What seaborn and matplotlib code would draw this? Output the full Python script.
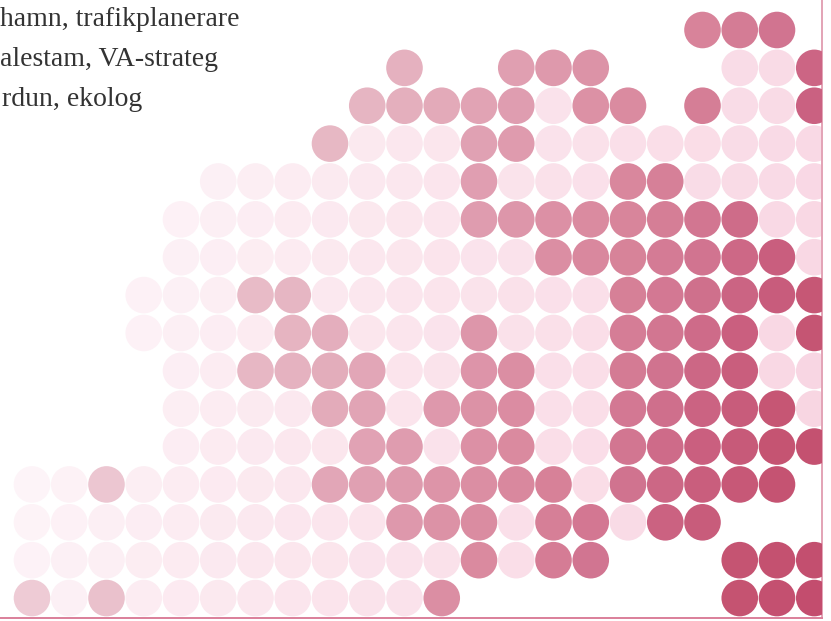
import numpy as np
import pandas as pd
import matplotlib
matplotlib.use("Agg")
import matplotlib.pyplot as plt
from matplotlib.colors import LinearSegmentedColormap
import seaborn as sns

# ---- data: dot matrix, '.' = no dot, 'o' = pale dot, 'X' = highlighted dot ----
grid_rows = [
    "..................XXX.",
    "..........X..XXX...ooX",
    ".........XXXXXoXX.XooX",
    "........XoooXXoooooooo",
    ".....oooooooXoooXXoooo",
    "....ooooooooXXXXXXXXoo",
    "....ooooooooooXXXXXXXo",
    "...oooXXooooooooXXXXXX",
    "...ooooXXoooXoooXXXXoX",
    "....ooXXXXooXXooXXXXoo",
    "....ooooXXoXXXooXXXXXo",
    "....oooooXXoXXooXXXXXX",
    "ooXoooooXXXXXXXoXXXXX.",
    "ooooooooooXXXoXXoXX...",
    "ooooooooooooXoXX...XXX",
    "XoXooooooooX.......XXX",
]

label_lines = ["hamn, trafikplanerare", "alestam, VA-strateg", "rdun, ekolog"]

# ---- build table ----
recs = []
for r, line in enumerate(grid_rows):
    for c, ch in enumerate(line):
        if ch != ".":
            recs.append({"col": c, "row": r, "state": "dark" if ch == "X" else "pale"})
df = pd.DataFrame(recs)
df["shade"] = df["col"] + 0.35 * df["row"]

dark_cmap = LinearSegmentedColormap.from_list(
    "dark",
    [(0.0, "#EECCD6"), (0.16, "#E8BBC7"), (0.30, "#E3ABBA"), (0.44, "#DE98AC"),
     (0.60, "#D8849A"), (0.70, "#D17490"), (0.78, "#CA6080"), (0.88, "#C55472"),
     (1.0, "#C34D6E")])
pale_cmap = LinearSegmentedColormap.from_list(
    "pale", [(0.0, "#FDF4F8"), (0.32, "#FBE7EE"), (0.82, "#F9D9E5"), (1.0, "#F8D4E1")])

W, H = 831, 621
fig = plt.figure(figsize=(W / 100, H / 100), dpi=100)
fig.patch.set_facecolor("white")

ax_right_px, ax_bottom_px = 822, 618
ax = fig.add_axes([0, (H - ax_bottom_px) / H, ax_right_px / W, ax_bottom_px / H])

x0, dx = 32, 37.25
y0, dy = 30, 37.87
size = (36.6 * 0.72) ** 2

sns.scatterplot(data=df[df.state == "pale"], x="col", y="row", hue="shade",
                palette=pale_cmap, hue_norm=(4, 26), s=size, linewidth=0,
                legend=False, ax=ax, zorder=2)
sns.scatterplot(data=df[df.state == "dark"], x="col", y="row", hue="shade",
                palette=dark_cmap, hue_norm=(5, 26.5), s=size, linewidth=0,
                legend=False, ax=ax, zorder=3)

ax.set_xlim(-x0 / dx, (ax_right_px - x0) / dx)
ax.set_ylim((ax_bottom_px - y0) / dy, -y0 / dy)
ax.set_xticks([])
ax.set_yticks([])
ax.set_xlabel("")
ax.set_ylabel("")
ax.set_facecolor("white")
for s in ["top", "left"]:
    ax.spines[s].set_visible(False)
ax.spines["right"].set_color("#E3A3B6")
ax.spines["right"].set_linewidth(1.4)
ax.spines["bottom"].set_color("#DB7F9A")
ax.spines["bottom"].set_linewidth(1.4)

for i, txt in enumerate(label_lines):
    fig.text(0 if i < 2 else 2 / W, 1 - (26 + 40 * i) / H, txt,
             family=["Liberation Serif", "DejaVu Serif"], fontsize=20,
             color="#333333", va="baseline", ha="left")

fig.savefig("out.png", dpi=100, facecolor="white")
